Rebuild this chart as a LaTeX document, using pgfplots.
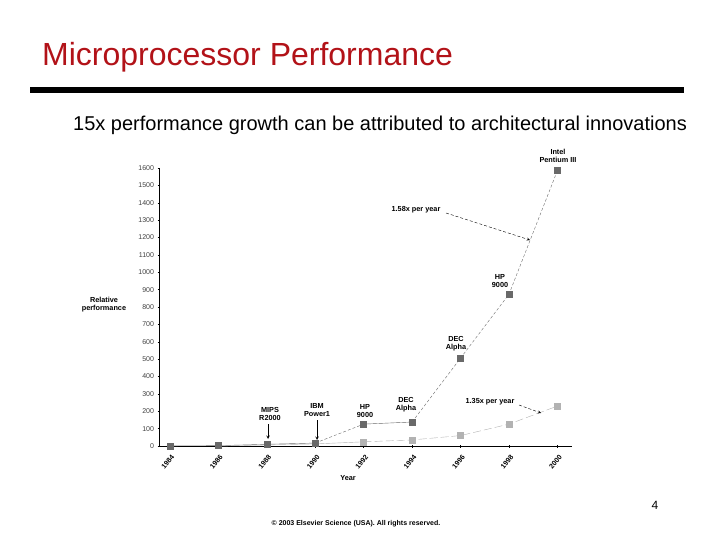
\documentclass[border=0pt]{standalone}
\usepackage{pgfplots}
\pgfplotsset{compat=1.18}
\usepackage{pgfplotstable}
\usepackage{fontspec}
\setmainfont{Liberation Sans}
\definecolor{titlered}{RGB}{178,18,24}
\definecolor{darkpt}{RGB}{105,105,105}
\definecolor{lightpt}{RGB}{178,178,178}

% measured performance, relative to 1984
\pgfplotstableread{
year perf
1984 1
1986 2
1988 10
1990 17
1992 126
1994 138
1996 506
1998 874
2000 1586
}\darkdata

\pgfplotstableread{
year perf
1986 0
1990 12
1992 24
1994 35
1996 60
1998 126
2000 230
}\lightdata

\begin{document}
\begin{tikzpicture}[ann/.style={font=\bfseries\fontsize{7.3}{8}\selectfont, align=center, inner sep=0pt}]
\useasboundingbox (0,0) rectangle (720pt,-540pt);

% slide header
\node[anchor=base west, text=titlered, font=\fontsize{32}{34}\selectfont, inner sep=0pt] at (42pt,-66pt) {Microprocessor Performance};
\fill (30pt,-87pt) rectangle (684pt,-93pt);
\node[anchor=base west, font=\fontsize{20}{22}\selectfont, inner sep=0pt] at (73pt,-131pt) {15x performance growth can be attributed to architectural innovations};

\begin{axis}[
  at={(159pt,-446pt)}, anchor=south west,
  scale only axis, width=413pt, height=278pt,
  xmin=1983.55, xmax=2000.6, ymin=0, ymax=1600,
  axis lines=left, axis line style={-, thin},
  xtick={1984,1986,...,2000}, minor x tick num=1,
  ytick={0,100,...,1600},
  tick style={black, thin}, major tick length=3pt, minor tick length=3pt,
  /pgf/number format/assume math mode=true,
  /pgf/number format/1000 sep={},
  xticklabel style={font=\bfseries\fontsize{7}{7}\selectfont, inner sep=0pt, anchor=center, yshift=-14pt, xshift=-2pt, rotate=50},
  yticklabel style={font=\fontsize{7}{7}\selectfont, text=black!75},
  clip=false,
]
  \addplot[darkpt, thin, restrict x to domain=1984:1990] table[x=year,y=perf]{\darkdata};
  \addplot[darkpt, thin, densely dashed, restrict x to domain=1990:1992] table[x=year,y=perf]{\darkdata};
  \addplot[darkpt, thin, restrict x to domain=1992:1994] table[x=year,y=perf]{\darkdata};
  \addplot[darkpt, thin, densely dashed, restrict x to domain=1994:2000] table[x=year,y=perf]{\darkdata};
  \addplot[lightpt, thin, restrict x to domain=1986:1992] table[x=year,y=perf]{\lightdata};
  \addplot[lightpt, thin, dash pattern=on 8pt off 3pt, restrict x to domain=1992:2000] table[x=year,y=perf]{\lightdata};
  \addplot[only marks, mark=square*, mark size=3pt, lightpt, restrict x to domain=1992:2000] table[x=year,y=perf]{\lightdata};
  \addplot[only marks, mark=square*, mark size=3pt, darkpt] table[x=year,y=perf]{\darkdata};
\end{axis}

% labels
\node[ann] at (104pt,-305pt) {Relative\\performance};
\node[ann] at (348pt,-478pt) {Year};
\node[ann] at (558pt,-156pt) {Intel\\Pentium III};
\node[ann] at (500pt,-281pt) {HP\\9000};
\node[ann] at (456pt,-344pt) {DEC\\Alpha};
\node[ann] at (270pt,-414pt) {MIPS\\R2000};
\node[ann] at (317pt,-410pt) {IBM\\Power1};
\node[ann] at (365pt,-411pt) {HP\\9000};
\node[ann] at (406pt,-405pt) {DEC\\Alpha};
\node[ann] at (416pt,-210pt) {1.58x per year};
\node[ann] at (490pt,-402pt) {1.35x per year};
\draw[densely dashed, -stealth] (446pt,-213pt) -- (530pt,-240pt);
\draw[densely dashed, -stealth] (519pt,-405pt) -- (541pt,-413pt);
\draw[semithick, -stealth] (268pt,-424pt) -- (268pt,-439pt);
\draw[semithick, -stealth] (317pt,-420pt) -- (317pt,-440pt);

% footer
\node[anchor=base, font=\fontsize{12}{13}\selectfont] at (655pt,-509pt) {4};
\node[font=\bfseries\fontsize{7}{8}\selectfont] at (356pt,-524pt) {\textcopyright\ 2003 Elsevier Science (USA). All rights reserved.};
\end{tikzpicture}
\end{document}
